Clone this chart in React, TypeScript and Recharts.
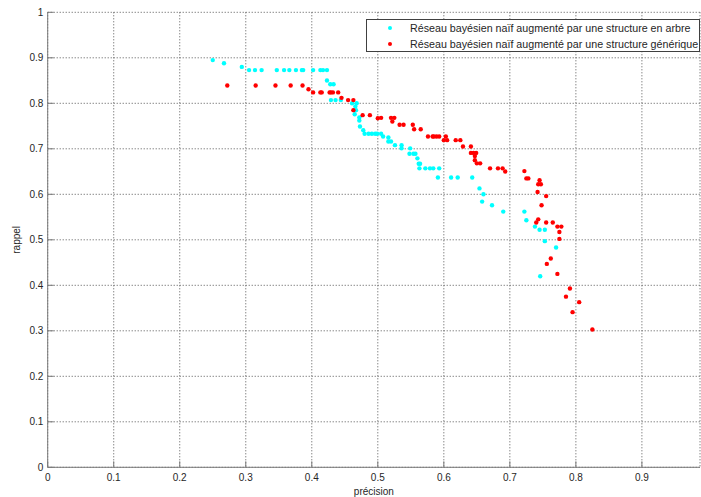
import React from 'react';
import { ScatterChart, Scatter, XAxis, YAxis, CartesianGrid, Legend } from 'recharts';

// valeurs (précision, rappel)
const arbrePrecision = [
  0.250, 0.267, 0.294, 0.305, 0.314, 0.324, 0.347, 0.358, 0.366, 0.376, 0.385, 0.387,
  0.402, 0.413, 0.417, 0.423, 0.423, 0.428, 0.433, 0.429, 0.436, 0.444, 0.461, 0.468,
  0.466, 0.467, 0.465, 0.472, 0.472, 0.473, 0.478, 0.480, 0.486, 0.491, 0.496, 0.499,
  0.505, 0.508, 0.516, 0.516, 0.520, 0.526, 0.536, 0.536, 0.549, 0.548, 0.554, 0.557,
  0.560, 0.562, 0.564, 0.563, 0.572, 0.579, 0.584, 0.593, 0.591, 0.611, 0.621, 0.643,
  0.654, 0.660, 0.658, 0.673, 0.690, 0.722, 0.725, 0.738, 0.745, 0.753, 0.753, 0.770,
  0.746,
];
const arbreRappel = [
  0.895, 0.888, 0.880, 0.873, 0.873, 0.873, 0.873, 0.873, 0.873, 0.873, 0.873, 0.873,
  0.873, 0.873, 0.873, 0.873, 0.850, 0.842, 0.842, 0.807, 0.807, 0.807, 0.800, 0.800,
  0.793, 0.785, 0.776, 0.769, 0.762, 0.749, 0.741, 0.733, 0.733, 0.733, 0.733, 0.733,
  0.733, 0.727, 0.725, 0.716, 0.716, 0.708, 0.708, 0.701, 0.701, 0.689, 0.689, 0.689,
  0.679, 0.667, 0.667, 0.657, 0.657, 0.657, 0.657, 0.657, 0.637, 0.637, 0.637, 0.637,
  0.613, 0.600, 0.584, 0.576, 0.562, 0.562, 0.543, 0.529, 0.522, 0.522, 0.497, 0.483,
  0.420,
];

const generiquePrecision = [
  0.272, 0.315, 0.345, 0.368, 0.386, 0.395, 0.402, 0.413, 0.415, 0.427, 0.429, 0.432,
  0.440, 0.445, 0.455, 0.463, 0.463, 0.477, 0.488, 0.500, 0.505, 0.520, 0.525, 0.522,
  0.533, 0.539, 0.553, 0.555, 0.565, 0.576, 0.583, 0.585, 0.589, 0.593, 0.603, 0.605,
  0.600, 0.618, 0.625, 0.629, 0.641, 0.641, 0.645, 0.649, 0.647, 0.647, 0.650, 0.655,
  0.670, 0.682, 0.689, 0.693, 0.722, 0.725, 0.728, 0.745, 0.743, 0.747, 0.742, 0.755,
  0.748, 0.743, 0.740, 0.755, 0.765, 0.772, 0.778, 0.775, 0.775, 0.762, 0.756, 0.772,
  0.791, 0.785, 0.805, 0.795, 0.825,
];
const generiqueRappel = [
  0.839, 0.839, 0.839, 0.839, 0.839, 0.831, 0.824, 0.824, 0.824, 0.824, 0.824, 0.824,
  0.824, 0.812, 0.807, 0.807, 0.785, 0.774, 0.774, 0.767, 0.768, 0.768, 0.768, 0.760,
  0.753, 0.753, 0.753, 0.743, 0.743, 0.727, 0.727, 0.727, 0.727, 0.727, 0.727, 0.719,
  0.719, 0.719, 0.719, 0.705, 0.705, 0.691, 0.691, 0.691, 0.684, 0.675, 0.668, 0.668,
  0.657, 0.657, 0.657, 0.650, 0.651, 0.635, 0.635, 0.631, 0.622, 0.622, 0.605, 0.596,
  0.576, 0.545, 0.538, 0.538, 0.538, 0.529, 0.529, 0.517, 0.502, 0.459, 0.447, 0.425,
  0.393, 0.375, 0.363, 0.341, 0.303,
];

const xTicks = [0, 0.1, 0.2, 0.3, 0.4, 0.5, 0.6, 0.7, 0.8, 0.9];
const yTicks = [0, 0.1, 0.2, 0.3, 0.4, 0.5, 0.6, 0.7, 0.8, 0.9, 1];

const nomArbre = 'Réseau bayésien naïf augmenté par une structure en arbre';
const nomGenerique = 'Réseau bayésien naïf augmenté par une structure générique';

const AXE = '#7a7a7a';
const TEXTE = '#262626';
const FONT = '"Liberation Sans", Arial, sans-serif';

const arbreData = arbrePrecision.map((x, i) => ({ x, y: arbreRappel[i] }));
const generiqueData = generiquePrecision.map((x, i) => ({ x, y: generiqueRappel[i] }));

const Point = (props: any) => {
  const { cx, cy, fill } = props;
  return <circle cx={cx} cy={cy} r={2.2} fill={fill} />;
};

const XTick = ({ x, y, payload }: any) => (
  <g>
    <line x1={x} y1={y} x2={x} y2={y - 6} stroke={AXE} />
    <text x={x} y={y + 13.7} textAnchor="middle" fontSize={10} fontFamily={FONT} fill={TEXTE}>
      {String(payload.value)}
    </text>
  </g>
);

const TopTick = ({ x, y }: any) => <line x1={x} y1={y} x2={x} y2={y + 6} stroke={AXE} />;

const YTick = ({ x, y, payload }: any) => (
  <g>
    <line x1={x} y1={y} x2={x + 6} y2={y} stroke={AXE} />
    <text x={x - 4.3} y={y} dy="0.35em" textAnchor="end" fontSize={10} fontFamily={FONT} fill={TEXTE}>
      {String(payload.value)}
    </text>
  </g>
);

const XLabel = ({ viewBox }: any) => (
  <text x={viewBox.x + viewBox.width / 2} y={viewBox.y + 27.7} textAnchor="middle" fontSize={10} fontFamily={FONT} fill={TEXTE}>
    précision
  </text>
);

const YLabel = ({ viewBox }: any) => (
  <text
    x={0}
    y={0}
    transform={`translate(${viewBox.x + 20}, ${viewBox.y + viewBox.height / 2}) rotate(-90)`}
    textAnchor="middle"
    fontSize={10}
    fontFamily={FONT}
    fill={TEXTE}
  >
    rappel
  </text>
);

const Legende = ({ payload }: any) => (
  <div
    style={{
      border: '1px solid #404040',
      background: '#fff',
      height: 31,
      boxSizing: 'content-box',
      fontFamily: FONT,
      fontSize: 10.7,
      color: TEXTE,
      whiteSpace: 'nowrap',
    }}
  >
    {(payload || []).map((p: any) => (
      <div key={p.value} style={{ display: 'flex', alignItems: 'center', height: 16, lineHeight: '16px' }}>
        <span
          style={{
            display: 'inline-block',
            width: 4,
            height: 4,
            borderRadius: 2,
            background: p.color,
            marginLeft: 21,
            marginRight: 18,
          }}
        />
        <span>{p.value}</span>
      </div>
    ))}
  </div>
);

export default function App() {
  return (
    <div style={{ position: 'absolute', left: 0, top: 0, width: 701, height: 497, background: '#fff' }}>
      <ScatterChart width={701} height={497} margin={{ top: 12.3, right: 1, bottom: 0, left: 0 }}>
        <CartesianGrid stroke="#555" strokeDasharray="1 2" />
        <XAxis
          type="number"
          dataKey="x"
          domain={[0, 0.988]}
          ticks={xTicks}
          interval={0}
          allowDataOverflow
          height={29.7}
          tickSize={0}
          tickMargin={0}
          tickLine={false}
          axisLine={{ stroke: AXE }}
          tick={<XTick />}
          label={<XLabel />}
        />
        <XAxis
          xAxisId="top"
          orientation="top"
          type="number"
          dataKey="x"
          domain={[0, 0.988]}
          ticks={xTicks}
          interval={0}
          allowDataOverflow
          height={0}
          tickSize={0}
          tickMargin={0}
          tickLine={false}
          axisLine={{ stroke: AXE }}
          tick={<TopTick />}
        />
        <YAxis
          type="number"
          dataKey="y"
          domain={[0, 1]}
          ticks={yTicks}
          interval={0}
          allowDataOverflow
          width={47.7}
          tickSize={0}
          tickMargin={0}
          tickLine={false}
          axisLine={{ stroke: AXE }}
          tick={<YTick />}
          label={<YLabel />}
        />
        <Legend
          layout="vertical"
          align="center"
          verticalAlign="middle"
          content={<Legende />}
          wrapperStyle={{ left: 366, top: 19, width: 334 }}
        />
        <Scatter name={nomArbre} data={arbreData} fill="#00ffff" shape={<Point />} isAnimationActive={false} />
        <Scatter name={nomGenerique} data={generiqueData} fill="#ff0000" shape={<Point />} isAnimationActive={false} />
      </ScatterChart>
    </div>
  );
}
